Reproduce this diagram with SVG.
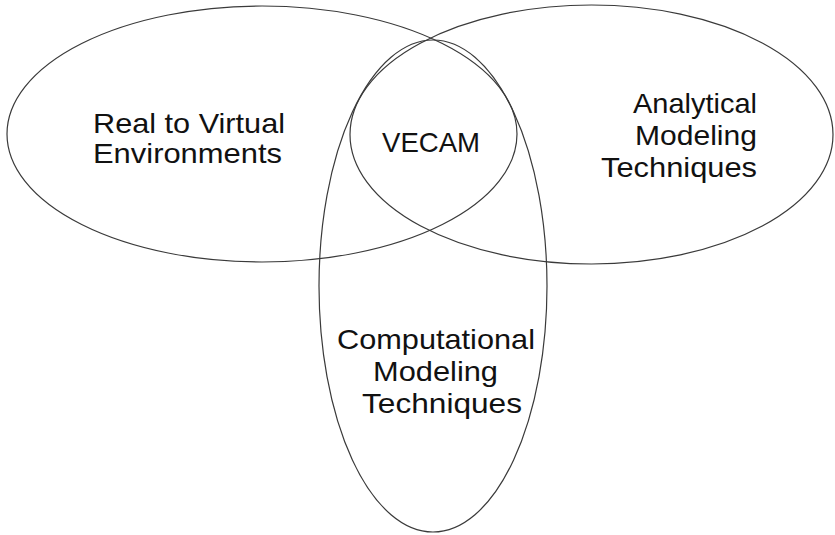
<svg xmlns="http://www.w3.org/2000/svg" width="835" height="535" viewBox="0 0 835 535">
<style>
.set{fill:none;stroke:#3a3a3a;stroke-width:1.2}
.lbl{font-family:"Liberation Sans",Arial,sans-serif;font-size:28px;fill:#111}
</style>
<rect width="835" height="535" fill="#fff"/>
<g id="real-virtual">
<ellipse class="set" cx="262" cy="134" rx="255" ry="128"/>
<text class="lbl" x="93" y="133" textLength="192" lengthAdjust="spacingAndGlyphs">Real to Virtual</text>
<text class="lbl" x="93" y="163" textLength="189" lengthAdjust="spacingAndGlyphs">Environments</text>
</g>
<g id="analytical">
<ellipse class="set" cx="591.5" cy="134.5" rx="241.5" ry="129.5"/>
<text class="lbl" x="633" y="113" textLength="124" lengthAdjust="spacingAndGlyphs">Analytical</text>
<text class="lbl" x="635" y="145" textLength="122" lengthAdjust="spacingAndGlyphs">Modeling</text>
<text class="lbl" x="601" y="177" textLength="156" lengthAdjust="spacingAndGlyphs">Techniques</text>
</g>
<g id="computational">
<ellipse class="set" cx="433" cy="286" rx="114" ry="246"/>
<text class="lbl" x="337" y="349" textLength="198" lengthAdjust="spacingAndGlyphs">Computational</text>
<text class="lbl" x="373" y="381" textLength="125" lengthAdjust="spacingAndGlyphs">Modeling</text>
<text class="lbl" x="362" y="413" textLength="160" lengthAdjust="spacingAndGlyphs">Techniques</text>
</g>
<g id="vecam">
<text class="lbl" x="382" y="152" textLength="98" lengthAdjust="spacingAndGlyphs">VECAM</text>
</g>
<g id="connectors"></g>
</svg>
